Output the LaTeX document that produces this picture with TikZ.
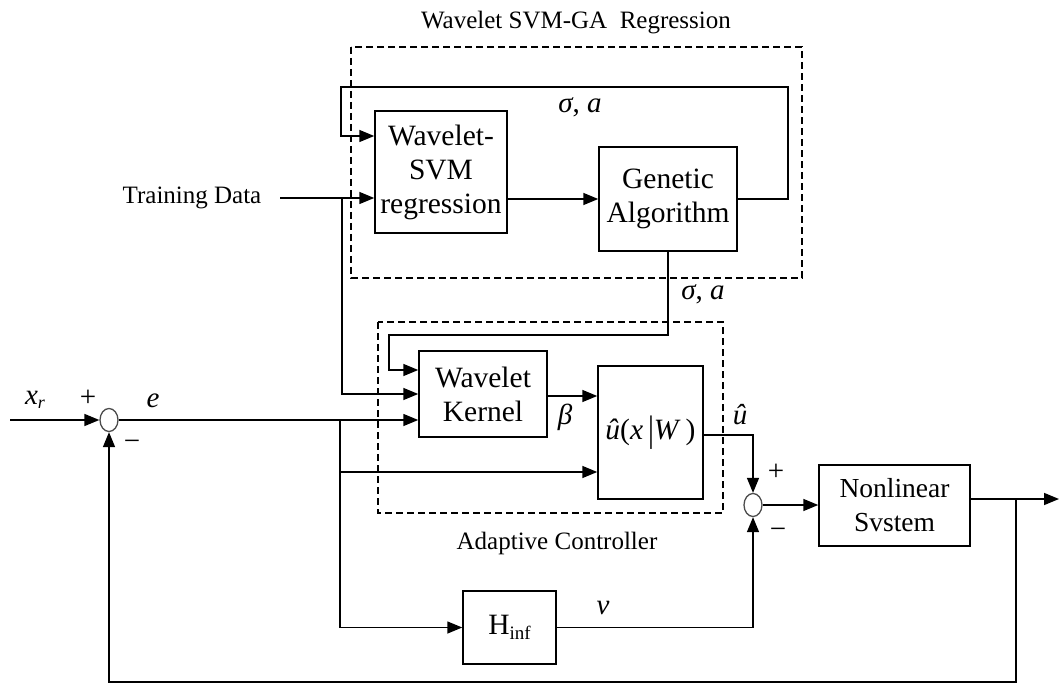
\documentclass[tikz,border=0pt]{standalone}
\usepackage{fontspec}
\setmainfont{Liberation Serif}
\usetikzlibrary{arrows.meta,shapes.geometric,calc}
\tikzset{
  blk/.style={draw, line width=1.5pt, inner sep=0pt, align=center, font=\fontsize{29.5}{34}\selectfont},
  arr/.style={-{Triangle[length=15pt,width=12pt]}, line width=1.5pt},
  ln/.style={line width=1.5pt},
  dbox/.style={draw, dash pattern=on 7pt off 4pt, line width=1.3pt},
  sumj/.style={draw, ellipse, line width=1.3pt, draw=black!70, minimum width=18pt, minimum height=23pt, inner sep=0pt},
  lbl/.style={inner sep=0pt, font=\fontsize{29}{30}\selectfont},
  captxt/.style={inner sep=0pt, font=\fontsize{25}{28}\selectfont},
}
\begin{document}
\begin{tikzpicture}[x=1pt,y=-1pt]
\useasboundingbox (0,0) rectangle (1059,684);

% group boxes
\draw[dbox] (351,47) rectangle (802,278);
\draw[dbox] (378,322) rectangle (723,513);
\node[captxt] (title) at (576,23) {Wavelet SVM-GA\ \ Regression};
\node[captxt] (actitle) at (557,543) {Adaptive Controller};

% blocks
\node[blk, minimum width=132pt, minimum height=122pt] (wsvm) at (441,172) {Wavelet-\\SVM\\regression};
\node[blk, minimum width=138pt, minimum height=104pt] (ga) at (668,199) {Genetic\\Algorithm};
\node[blk, minimum width=128pt, minimum height=86pt] (wk) at (483,394) {Wavelet\\Kernel};
\node[blk, minimum width=105pt, minimum height=133pt] (uhat) at (650.5,432.5) {\textit{û}(\textit{x}\,\raisebox{-0.15ex}{\scalebox{1}[1.25]{|}}\textit{W}\,)};
\node[blk, minimum width=93pt, minimum height=73pt] (hinf) at (509.5,627.5) {H\raisebox{-0.35ex}{\fontsize{19}{19}\selectfont inf}};
\node[blk, minimum width=151pt, minimum height=81pt, font=\fontsize{27.5}{34}\selectfont] (nls) at (894.5,505.5) {Nonlinear\\Svstem};
\node[sumj] (c1) at (109,420) {};
\node[sumj] (c2) at (753,505) {};

% text labels
\node[captxt] (td) at (192,198) {Training Data};
\node[lbl] (sa1) at (580,107) {\textit{σ}, \textit{a}};
\node[lbl] (sa2) at (703,294) {\textit{σ}, \textit{a}};
\node[lbl] (beta) at (565,417) {\textit{β}};
\node[lbl] (uh) at (740,415) {\textit{û}};
\node[lbl] (xr) at (35,400) {\textit{x}\raisebox{-0.35ex}{\fontsize{18}{18}\selectfont\textit{r}}};
\node[lbl] (p1) at (88,398) {+};
\node[lbl] (m1) at (132,445) {−};
\node[lbl] (el) at (153,401) {\textit{e}};
\node[lbl] (p2) at (776,472) {+};
\node[lbl] (m2) at (778,533) {−};
\node[lbl] (vl) at (603,608) {\textit{v}};

% coordinates
\coordinate (tA) at (788,87);
\coordinate (tB) at (341,136);
\coordinate (tdS) at (280,198);
\coordinate (j1) at (342,198);
\coordinate (g1) at (389,335);
\coordinate (g2) at (389,370);
\coordinate (xin) at (10,420);
\coordinate (j2) at (340,420);
\coordinate (j3) at (340,472);
\coordinate (wkout) at (547,396);
\coordinate (uout) at (703,435);
\coordinate (out) at (1059,499);
\coordinate (j4) at (1016,499);
\coordinate (bot) at (1016,682);

% connectors
\draw[arr] (ga.east) -| (tA) -| (tB) -- (tB -| wsvm.west);
\draw[arr] (tdS) -- (tdS -| wsvm.west);
\draw[arr] (ga.west -| wsvm.east) -- (ga.west);
\draw[arr] (j1) |- (wk.west);
\draw[arr] (ga.south) |- (g1) -- (g2) -- (g2 -| wk.west);
\draw[arr] (xin) -- (c1.west);
\draw[arr] (c1.east) -- (c1.east -| wk.west);
\draw[arr] (j2) |- (hinf.west);
\draw[arr] (j3) -- (j3 -| uhat.west);
\draw[arr] (wkout) -- (wkout -| uhat.west);
\draw[arr] (uout) -| (c2.north);
\draw[arr] (hinf.east) -| (c2.south);
\draw[arr] (c2.east) -- (c2.east -| nls.west);
\draw[arr] (nls.east |- out) -- (out);
\draw[arr] (j4) -- (bot) -| (c1.south);
\end{tikzpicture}
\end{document}
